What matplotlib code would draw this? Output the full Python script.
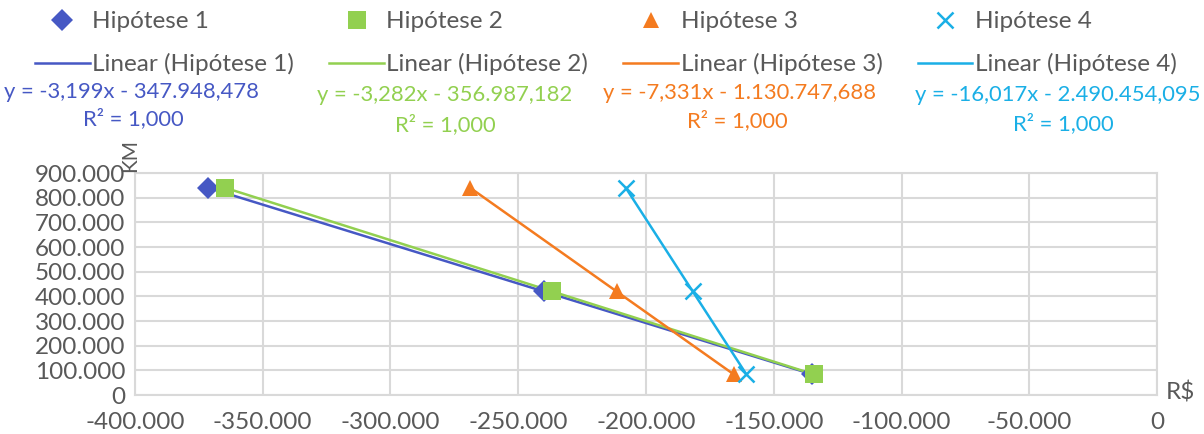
import numpy as np
import matplotlib.pyplot as plt
from matplotlib.ticker import FuncFormatter, MultipleLocator

plt.rcParams["font.family"] = ["Lato", "DejaVu Sans"]

# values (KM vs R$)
km = [840000, 420000, 84000]
cost_h1 = [-371350, -240060, -135030]
cost_h2 = [-364710, -236740, -134370]
cost_h3 = [-268820, -211530, -165700]
cost_h4 = [-207930, -181710, -160730]

names = ["Hipótese 1", "Hipótese 2", "Hipótese 3", "Hipótese 4"]
series = [cost_h1, cost_h2, cost_h3, cost_h4]
colors = ["#4658C4", "#92D050", "#F47B20", "#1AAFE6"]
markers = ["D", "s", "^", "x"]
msizes = [11, 13, 12, 12]
equations = [
    "y = -3,199x - 347.948,478",
    "y = -3,282x - 356.987,182",
    "y = -7,331x - 1.130.747,688",
    "y = -16,017x - 2.490.454,095",
]
r2_labels = ["R² = 1,000"] * 4
eq_pos = [(132, 92), (445, 95), (740, 93), (1058, 95)]
r2_pos = [(133, 119), (445, 125), (737, 121), (1063, 124)]

W, H = 1204, 434
fig = plt.figure(figsize=(W / 100, H / 100), dpi=100)
ax = fig.add_axes([135 / W, 1 - 395 / H, (1157 - 135) / W, (395 - 173) / H])

text_gray = "#595959"
grid_gray = "#D9D9D9"
fs = 17.5
eq_fs = 15.8

handles = []
for name, xs, c, m, ms in zip(names, series, colors, markers, msizes):
    xs = np.array(xs, dtype=float)
    ys = np.array(km, dtype=float)
    mew = 1.8 if m == "x" else 0
    (pt,) = ax.plot(xs, ys, linestyle="none", marker=m, color=c, markersize=ms,
                    markeredgewidth=mew, zorder=4, label=name)
    k, b = np.polyfit(xs, ys, 1)
    xl = np.array([xs.min(), xs.max()])
    (ln,) = ax.plot(xl, k * xl + b, color=c, lw=1.8, zorder=3,
                    label=f"Linear ({name})")
    handles += [pt, ln]

ax.set_xlim(-400000, 0)
ax.set_ylim(0, 900000)
ax.xaxis.set_major_locator(MultipleLocator(50000))
ax.yaxis.set_major_locator(MultipleLocator(100000))
fmt = FuncFormatter(lambda v, p: f"{v:,.0f}".replace(",", "."))
ax.xaxis.set_major_formatter(fmt)
ax.yaxis.set_major_formatter(fmt)
ax.grid(True, color=grid_gray, lw=1.5)
ax.set_axisbelow(True)
for s in ax.spines.values():
    s.set_color(grid_gray)
    s.set_linewidth(1.5)
ax.tick_params(length=0, labelsize=fs, colors=text_gray, pad=7)
ax.tick_params(axis="x", pad=12)

fig.text(130 / W, 1 - 156 / H, "KM", rotation=90, ha="center", va="center",
         fontsize=15, color=text_gray)
fig.text(1180 / W, 1 - 393 / H, "R$", ha="center", va="center",
         fontsize=fs, color=text_gray)

leg = fig.legend(handles=handles, ncol=4, loc="upper left",
                 bbox_to_anchor=(35 / W, 1 - 11 / H), frameon=False, fontsize=fs,
                 labelcolor=text_gray, handlelength=2.25, handletextpad=0.1,
                 columnspacing=1.45, labelspacing=0.87, borderaxespad=0,
                 borderpad=0)

for eq, r2, (ex, ey), (rx, ry), c in zip(equations, r2_labels, eq_pos, r2_pos, colors):
    fig.text(ex / W, 1 - ey / H, eq, ha="center", va="center", fontsize=eq_fs, color=c)
    fig.text(rx / W, 1 - ry / H, r2, ha="center", va="center", fontsize=eq_fs, color=c)

fig.savefig("out.png", dpi=100)
